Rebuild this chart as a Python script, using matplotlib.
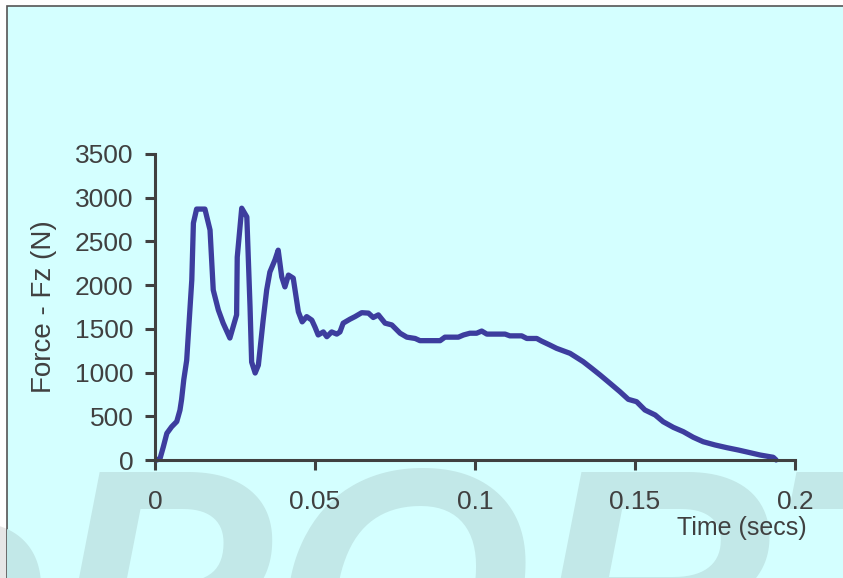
import matplotlib
matplotlib.use("Agg")
import matplotlib.pyplot as plt
from matplotlib.patches import Rectangle

# Data
time_s = [0.0006, 0.0016, 0.0026, 0.0037, 0.0052, 0.0068, 0.0078, 0.0083, 0.0090, 0.0099,
          0.0115, 0.0120, 0.0130, 0.0156, 0.0172, 0.0182, 0.0198, 0.0213, 0.0234, 0.0255,
          0.0257, 0.0271, 0.0287, 0.0297, 0.0302, 0.0313, 0.0323, 0.0338, 0.0349, 0.0359,
          0.0375, 0.0385, 0.0396, 0.0406, 0.0417, 0.0432, 0.0448, 0.0460, 0.0474, 0.0490,
          0.0500, 0.0510, 0.0526, 0.0537, 0.0552, 0.0568, 0.0578, 0.0588, 0.0609, 0.0625,
          0.0646, 0.0667, 0.0682, 0.0698, 0.0719, 0.0740, 0.0766, 0.0787, 0.0813, 0.0828,
          0.0891, 0.0906, 0.0948, 0.0964, 0.0984, 0.1005, 0.1021, 0.1037, 0.1094, 0.1109,
          0.1146, 0.1162, 0.1193, 0.1208, 0.1234, 0.1255, 0.1297, 0.1338, 0.1365, 0.1391,
          0.1422, 0.1453, 0.1479, 0.1505, 0.1531, 0.1563, 0.1588, 0.1620, 0.1651, 0.1682,
          0.1713, 0.1750, 0.1787, 0.1823, 0.1859, 0.1891, 0.1932, 0.1941]
force_n = [0, 20, 150, 305, 380, 440, 570, 690, 920, 1140,
           2060, 2710, 2870, 2870, 2630, 1945, 1715, 1565, 1395, 1660,
           2320, 2880, 2780, 1750, 1120, 995, 1085, 1600, 1945, 2150,
           2290, 2400, 2095, 1980, 2115, 2080, 1695, 1580, 1640, 1600,
           1520, 1430, 1465, 1410, 1465, 1440, 1465, 1565, 1610, 1640,
           1685, 1680, 1630, 1660, 1565, 1545, 1450, 1405, 1390, 1365,
           1365, 1405, 1405, 1430, 1450, 1450, 1475, 1440, 1440, 1420,
           1420, 1390, 1390, 1360, 1315, 1277, 1220, 1125, 1048, 972,
           877, 781, 694, 667, 572, 515, 438, 373, 324, 260,
           209, 172, 141, 114, 84, 57, 31, 0]

x_ticks = [0, 0.05, 0.1, 0.15, 0.2]
x_tick_labels = ["0", "0.05", "0.1", "0.15", "0.2"]
y_ticks = [0, 500, 1000, 1500, 2000, 2500, 3000, 3500]
y_tick_labels = ["0", "500", "1000", "1500", "2000", "2500", "3000", "3500"]

W, H = 843, 578
plt.rcParams['font.family'] = ['Liberation Sans', 'DejaVu Sans']
fig = plt.figure(figsize=(W / 100, H / 100), dpi=100, facecolor='white')

# chart area background with border
bg = Rectangle((7 / W, -0.1), 1.2, 1.1 - 6 / H, transform=fig.transFigure,
               facecolor='#D4FFFF', edgecolor='#555555', lw=1.2, zorder=-2)
fig.patches.append(bg)

# watermark (gray on white strip, teal on chart area)
wm_kw = dict(fontsize=240, fontweight='bold', style='italic', ha='left', va='top',
             family=['Liberation Sans'])
fig.text(-135 / W, 1 - 460 / H, "ePORT", color='#E6E6E6', zorder=-3, **wm_kw)
wm2 = fig.text(-135 / W, 1 - 460 / H, "ePORT", color='#C2E8E8', zorder=-1, **wm_kw)
wm2.set_clip_path(bg)

ax = fig.add_axes([155 / W, (H - 460) / H, (795 - 155) / W, (460 - 154) / H])
ax.set_facecolor('none')
ax.plot(time_s, force_n, color='#3D3D9E', lw=3.8, solid_joinstyle='round',
        solid_capstyle='round', clip_on=False)

ax.set_xlim(0, 0.2)
ax.set_ylim(0, 3500)
ax.set_xticks(x_ticks)
ax.set_xticklabels(x_tick_labels)
ax.set_yticks(y_ticks)
ax.set_yticklabels(y_tick_labels)

axis_color = '#404040'
for side in ['top', 'right']:
    ax.spines[side].set_visible(False)
for side in ['left', 'bottom']:
    ax.spines[side].set_color(axis_color)
    ax.spines[side].set_linewidth(2.2)
ax.tick_params(axis='both', colors=axis_color, labelcolor='#404040',
               width=2.2, length=7.5, direction='out', labelsize=19)
ax.tick_params(axis='x', pad=14)
ax.tick_params(axis='y', pad=8)

fig.text(44 / W, 1 - 307 / H, "Force - Fz (N)", rotation=90, ha='center', va='center',
         fontsize=20, color='#404040')
fig.text(807 / W, 1 - 535 / H, "Time (secs)", ha='right', va='baseline',
         fontsize=18, color='#404040')

fig.savefig("out.png", dpi=100, facecolor='white')
